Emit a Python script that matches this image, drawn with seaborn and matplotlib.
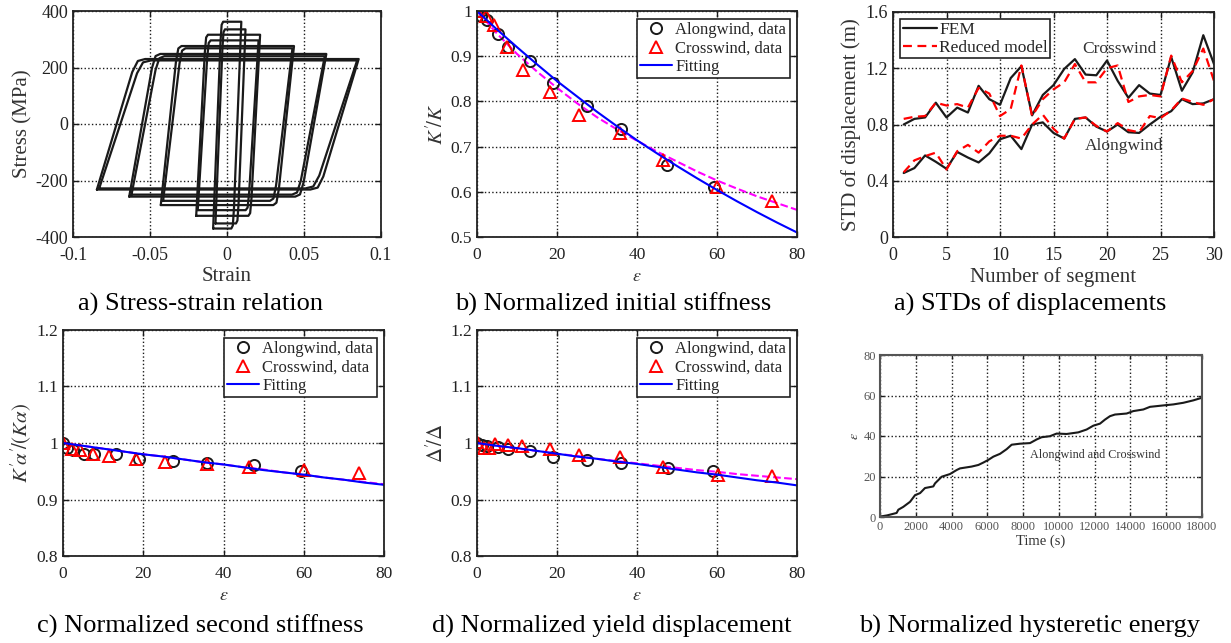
import numpy as np
import pandas as pd
import matplotlib
matplotlib.use("Agg")
import matplotlib.pyplot as plt
from matplotlib.ticker import FormatStrFormatter
import seaborn as sns

# ---------------- data ----------------
# a) hysteresis loops (two cycles per strain amplitude)
loop_left = [-0.0845, -0.0830, -0.0635, -0.0620, -0.0430, -0.0415, -0.0200, -0.0190, -0.0090, -0.0075]
loop_right = [0.0855, 0.0845, 0.0645, 0.0635, 0.0435, 0.0425, 0.0215, 0.0205, 0.0093, 0.0120]
loop_bot = [-232, -228, -257, -250, -287, -272, -325, -305, -370, -352]
loop_top = [230, 225, 248, 240, 276, 268, 316, 296, 362, 335]
loop_w = [0.028, 0.030, 0.018, 0.019, 0.012, 0.013, 0.0068, 0.0075, 0.0058, 0.0055]

# b) normalized initial stiffness
eps_along = [0, 1.1, 2.5, 5.2, 7.8, 13.3, 19.0, 27.5, 36.0, 47.5, 59.2]
k_along = [1.0, 0.99, 0.98, 0.95, 0.92, 0.89, 0.84, 0.79, 0.74, 0.66, 0.61]
eps_cross = [0, 2.3, 4.2, 7.5, 11.4, 18.3, 25.4, 35.8, 46.4, 60.0, 73.8]
k_cross = [1.0, 0.99, 0.97, 0.92, 0.87, 0.82, 0.77, 0.73, 0.67, 0.61, 0.58]
eps_fit = [0, 5, 10, 15, 20, 25, 30, 35, 40, 45, 50, 55, 60, 65, 70, 75, 80]
k_fit = [1.0, 0.959, 0.920, 0.882, 0.845, 0.811, 0.777, 0.745, 0.714, 0.685, 0.657, 0.630, 0.604, 0.579, 0.555, 0.532, 0.510]
k_fit2 = [1.0, 0.950, 0.905, 0.866, 0.830, 0.796, 0.765, 0.738, 0.713, 0.689, 0.667, 0.645, 0.625, 0.607, 0.590, 0.575, 0.560]

# c) normalized second stiffness
ka_along = [1.0, 0.992, 0.988, 0.981, 0.980, 0.980, 0.972, 0.969, 0.965, 0.961, 0.951]
ka_cross = [1.0, 0.990, 0.987, 0.980, 0.977, 0.972, 0.967, 0.962, 0.957, 0.952, 0.947]
ka_fit = [1.0, 0.995, 0.990, 0.985, 0.980, 0.976, 0.971, 0.966, 0.962, 0.957, 0.952, 0.948, 0.944, 0.939, 0.935, 0.930, 0.926]
ka_fit2 = [1.0, 0.995, 0.990, 0.985, 0.980, 0.976, 0.971, 0.966, 0.962, 0.957, 0.953, 0.948, 0.944, 0.939, 0.935, 0.931, 0.927]

# d) normalized yield displacement
eps_along_d = [0, 1.3, 2.5, 5.2, 7.8, 13.3, 19.0, 27.5, 36.0, 47.7, 59.0]
d_along = [1.0, 0.996, 0.994, 0.993, 0.990, 0.985, 0.976, 0.970, 0.964, 0.955, 0.951]
eps_cross_d = [0, 1.8, 3.1, 4.4, 7.7, 11.3, 18.3, 25.4, 35.7, 46.4, 60.2, 73.8]
d_cross = [1.002, 0.991, 0.991, 0.999, 0.997, 0.994, 0.989, 0.978, 0.976, 0.958, 0.944, 0.941]
d_fit = [1.0, 0.995, 0.991, 0.986, 0.981, 0.976, 0.972, 0.967, 0.963, 0.958, 0.953, 0.948, 0.944, 0.939, 0.934, 0.930, 0.925]
d_fit2 = [1.0, 0.995, 0.990, 0.986, 0.981, 0.977, 0.972, 0.968, 0.964, 0.960, 0.956, 0.952, 0.949, 0.945, 0.942, 0.939, 0.936]

# STDs of displacements
segment = list(range(1, 31))
fem_cross = [0.80, 0.84, 0.85, 0.955, 0.85, 0.92, 0.885, 1.075, 0.98, 0.94, 1.13, 1.215, 0.865, 1.01, 1.08,
             1.195, 1.265, 1.155, 1.15, 1.255, 1.11, 0.99, 1.08, 1.02, 1.01, 1.28, 1.04, 1.17, 1.435, 1.23]
red_cross = [0.84, 0.855, 0.86, 0.955, 0.935, 0.945, 0.92, 1.06, 1.02, 0.86, 0.91, 1.22, 0.86, 0.98, 1.05,
             1.10, 1.23, 1.10, 1.10, 1.20, 1.22, 0.96, 1.00, 1.01, 1.00, 1.29, 1.10, 1.18, 1.34, 1.11]
fem_along = [0.455, 0.49, 0.58, 0.535, 0.485, 0.605, 0.565, 0.53, 0.595, 0.695, 0.72, 0.625, 0.80, 0.815, 0.74,
             0.70, 0.84, 0.85, 0.785, 0.75, 0.80, 0.745, 0.74, 0.80, 0.855, 0.895, 0.98, 0.945, 0.95, 0.98]
red_along = [0.46, 0.545, 0.575, 0.60, 0.48, 0.61, 0.655, 0.60, 0.68, 0.72, 0.72, 0.70, 0.80, 0.87, 0.77,
             0.70, 0.84, 0.85, 0.79, 0.75, 0.81, 0.76, 0.745, 0.86, 0.845, 0.90, 0.985, 0.96, 0.94, 0.98]

# normalized hysteretic energy vs time
time_s = [0, 400, 930, 1025, 1300, 1680, 1960, 2240, 2515, 2980, 3075, 3450, 3910, 4285, 4470, 5120, 5500,
          5780, 6055, 6335, 6710, 7080, 7360, 7825, 8385, 8757, 9036, 9500, 9875, 10434, 11086, 11550,
          11925, 12297, 12577, 12857, 13136, 13788, 14160, 14720, 15093, 15838, 16397, 16956, 17515, 18000]
energy = [0.2, 0.8, 2.0, 3.6, 5.0, 7.5, 10.8, 11.8, 14.3, 15.1, 16.6, 19.9, 21.2, 23.2, 24.0, 24.9, 25.7,
          26.9, 28.2, 29.8, 31.2, 33.5, 35.7, 36.2, 36.5, 38.3, 39.4, 39.9, 41.2, 41.0, 41.8, 43.2,
          45.1, 46.1, 48.1, 49.8, 50.6, 51.1, 52.3, 53.1, 54.4, 55.1, 55.6, 56.4, 57.6, 58.9]

# ---------------- style ----------------
sns.set_theme(style="ticks")
plt.rcParams["font.family"] = ["Liberation Serif", "DejaVu Serif"]
plt.rcParams["mathtext.fontset"] = "stix"

W, H = 1231, 643
fig = plt.figure(figsize=(W / 100, H / 100), dpi=100)
fig.patch.set_facecolor("white")


def box(l, t, r, b):
    return [l / W, 1 - b / H, (r - l) / W, (b - t) / H]


def style(ax, fs, lw=1.3, col="#222222", xpad=7.5, ypad=3.5):
    ax.set_facecolor("white")
    ax.tick_params(direction="in", top=True, right=True, labelsize=fs, length=4, width=1,
                   color="k", labelcolor=col)
    ax.tick_params(axis="x", pad=xpad)
    ax.tick_params(axis="y", pad=ypad)
    ax.grid(True, linestyle=":", color="k", linewidth=1)
    ax.set_axisbelow(True)
    for s in ax.spines.values():
        s.set_visible(True)
        s.set_linewidth(lw)
        s.set_color(col)


# ---------------- a) stress-strain ----------------
rows = []
for i in range(len(loop_left)):
    L, R, b, t, w = loop_left[i], loop_right[i], loop_bot[i], loop_top[i], loop_w[i]
    r = t - b
    xs = [L, L + 0.82 * w, L + 0.95 * w, L + 1.12 * w, R, R - 0.82 * w, R - 0.95 * w, R - 1.12 * w, L]
    ys = [b, b + 0.9 * r, t - 0.015 * r, t, t, t - 0.9 * r, b + 0.015 * r, b, b]
    for k in range(len(xs)):
        rows.append({"loop": i, "order": k, "strain": xs[k], "stress": ys[k]})
loops = pd.DataFrame(rows)

ax_a = fig.add_axes(box(73, 11, 381, 237))
sns.lineplot(data=loops, x="strain", y="stress", units="loop", estimator=None, sort=False,
             color="k", linewidth=1.6, ax=ax_a)
ax_a.set_xlim(-0.1, 0.1)
ax_a.set_ylim(-400, 400)
ax_a.set_xticks([-0.1, -0.05, 0, 0.05, 0.1])
ax_a.set_yticks([-400, -200, 0, 200, 400])
ax_a.xaxis.set_major_formatter(FormatStrFormatter("%g"))
ax_a.yaxis.set_major_formatter(FormatStrFormatter("%g"))
style(ax_a, 13)
ax_a.set_xlabel("Strain", fontsize=15, color="#333333", labelpad=2)
ax_a.set_ylabel("Stress (MPa)", fontsize=15, color="#333333", labelpad=2)


# ---------------- b, c, d) ----------------
def fit_panel(rect, ea, ya, ec, yc, yfit, yfit2, ylim, yticks, ylabel):
    ax = fig.add_axes(box(*rect))
    sns.lineplot(x=eps_fit, y=yfit2, color="#ff00ff", linestyle="--", linewidth=1.5, ax=ax)
    sns.lineplot(x=ea, y=ya, estimator=None, sort=False, linestyle="", marker="o", markersize=8,
                 mfc="none", mec="k", mew=1.4, color="k", label="Alongwind, data", ax=ax)
    sns.lineplot(x=ec, y=yc, estimator=None, sort=False, linestyle="", marker="^", markersize=9,
                 mfc="none", mec="#ff0000", mew=1.4, color="#ff0000", label="Crosswind, data", ax=ax)
    sns.lineplot(x=eps_fit, y=yfit, color="#0000ff", linewidth=1.5, label="Fitting", ax=ax)
    ax.set_xlim(0, 80)
    ax.set_ylim(*ylim)
    ax.set_xticks([0, 20, 40, 60, 80])
    ax.set_yticks(yticks)
    ax.yaxis.set_major_formatter(FormatStrFormatter("%g"))
    style(ax, 12.5)
    ax.set_xlabel(r"$\epsilon$", fontsize=13, color="#333333", labelpad=3)
    ax.set_ylabel(ylabel, fontsize=15, color="#333333", labelpad=2)
    leg = ax.legend(loc="upper right", fontsize=12, frameon=True, fancybox=False, edgecolor="#222222",
                    framealpha=1, borderpad=0.2, labelspacing=0.15, handlelength=1.9,
                    handletextpad=0.2, borderaxespad=0.45)
    leg.get_frame().set_linewidth(1.2)
    return ax


fit_panel((477, 11, 797, 237), eps_along, k_along, eps_cross, k_cross, k_fit, k_fit2,
          (0.5, 1.0), [0.5, 0.6, 0.7, 0.8, 0.9, 1.0], r"$K'\!/K$")
fit_panel((63, 330, 384, 556), eps_along, ka_along, eps_cross, ka_cross, ka_fit, ka_fit2,
          (0.8, 1.2), [0.8, 0.9, 1.0, 1.1, 1.2], r"$K'\!\alpha'\!/(K\alpha)$")
fit_panel((477, 330, 797, 556), eps_along_d, d_along, eps_cross_d, d_cross, d_fit, d_fit2,
          (0.8, 1.2), [0.8, 0.9, 1.0, 1.1, 1.2], r"$\Delta'\!/\Delta$")

# ---------------- STDs of displacements ----------------
ax_s = fig.add_axes(box(893, 12, 1214, 237))
sns.lineplot(x=segment, y=fem_cross, color="k", linewidth=1.6, label="FEM", ax=ax_s)
sns.lineplot(x=segment, y=red_cross, color="#ff0000", linewidth=1.6, linestyle=(0, (4, 2.5)),
             label="Reduced model", ax=ax_s)
sns.lineplot(x=segment, y=fem_along, color="k", linewidth=1.6, ax=ax_s)
sns.lineplot(x=segment, y=red_along, color="#ff0000", linewidth=1.6, linestyle=(0, (4, 2.5)), ax=ax_s)
ax_s.set_xlim(0, 30)
ax_s.set_ylim(0, 1.6)
ax_s.set_xticks([0, 5, 10, 15, 20, 25, 30])
ax_s.set_yticks([0, 0.4, 0.8, 1.2, 1.6])
ax_s.yaxis.set_major_formatter(FormatStrFormatter("%g"))
style(ax_s, 13)
ax_s.set_xlabel("Number of segment", fontsize=15, color="#333333", labelpad=2)
ax_s.set_ylabel("STD of displacement (m)", fontsize=15, color="#333333", labelpad=3)
ax_s.text(17.7, 1.34, "Crosswind", fontsize=12.5, color="#333333", va="center")
ax_s.text(17.9, 0.645, "Alongwind", fontsize=12.5, color="#333333", va="center")
leg = ax_s.legend(loc="upper left", fontsize=12.5, frameon=True, fancybox=False, edgecolor="#222222",
                  framealpha=1, borderpad=0.15, labelspacing=0.1, handlelength=2.0,
                  handletextpad=0.1, borderaxespad=0.4)
leg.get_frame().set_linewidth(1.2)

# ---------------- normalized hysteretic energy ----------------
ax_e = fig.add_axes(box(880, 355, 1202, 517))
sns.lineplot(x=time_s, y=energy, color="k", linewidth=1.5, ax=ax_e)
ax_e.set_xlim(0, 18000)
ax_e.set_ylim(0, 80)
ax_e.set_xticks(list(range(0, 18001, 2000)))
ax_e.set_yticks([0, 20, 40, 60, 80])
style(ax_e, 9, lw=1.5, col="#555555", xpad=3, ypad=3)
ax_e.tick_params(length=3)
ax_e.set_xlabel("Time (s)", fontsize=10.5, color="#333333", labelpad=1)
ax_e.set_ylabel(r"$\epsilon$", fontsize=10, color="#333333", labelpad=2)
ax_e.text(8400, 30.5, "Alongwind and Crosswind", fontsize=8.7, color="#333333", va="center")

# ---------------- captions ----------------
cap = dict(ha="center", va="center", fontsize=19, color="black")
fig.text(200 / W, 1 - 304 / H, "a) Stress-strain relation", **cap)
fig.text(613 / W, 1 - 304 / H, "b) Normalized initial stiffness", **cap)
fig.text(1030 / W, 1 - 304 / H, "a) STDs of displacements", **cap)
fig.text(200 / W, 1 - 626 / H, "c) Normalized second stiffness", **cap)
fig.text(612 / W, 1 - 626 / H, "d) Normalized yield displacement", **cap)
fig.text(1030 / W, 1 - 626 / H, "b) Normalized hysteretic energy", **cap)

fig.savefig("out.png", dpi=100, facecolor="white")
